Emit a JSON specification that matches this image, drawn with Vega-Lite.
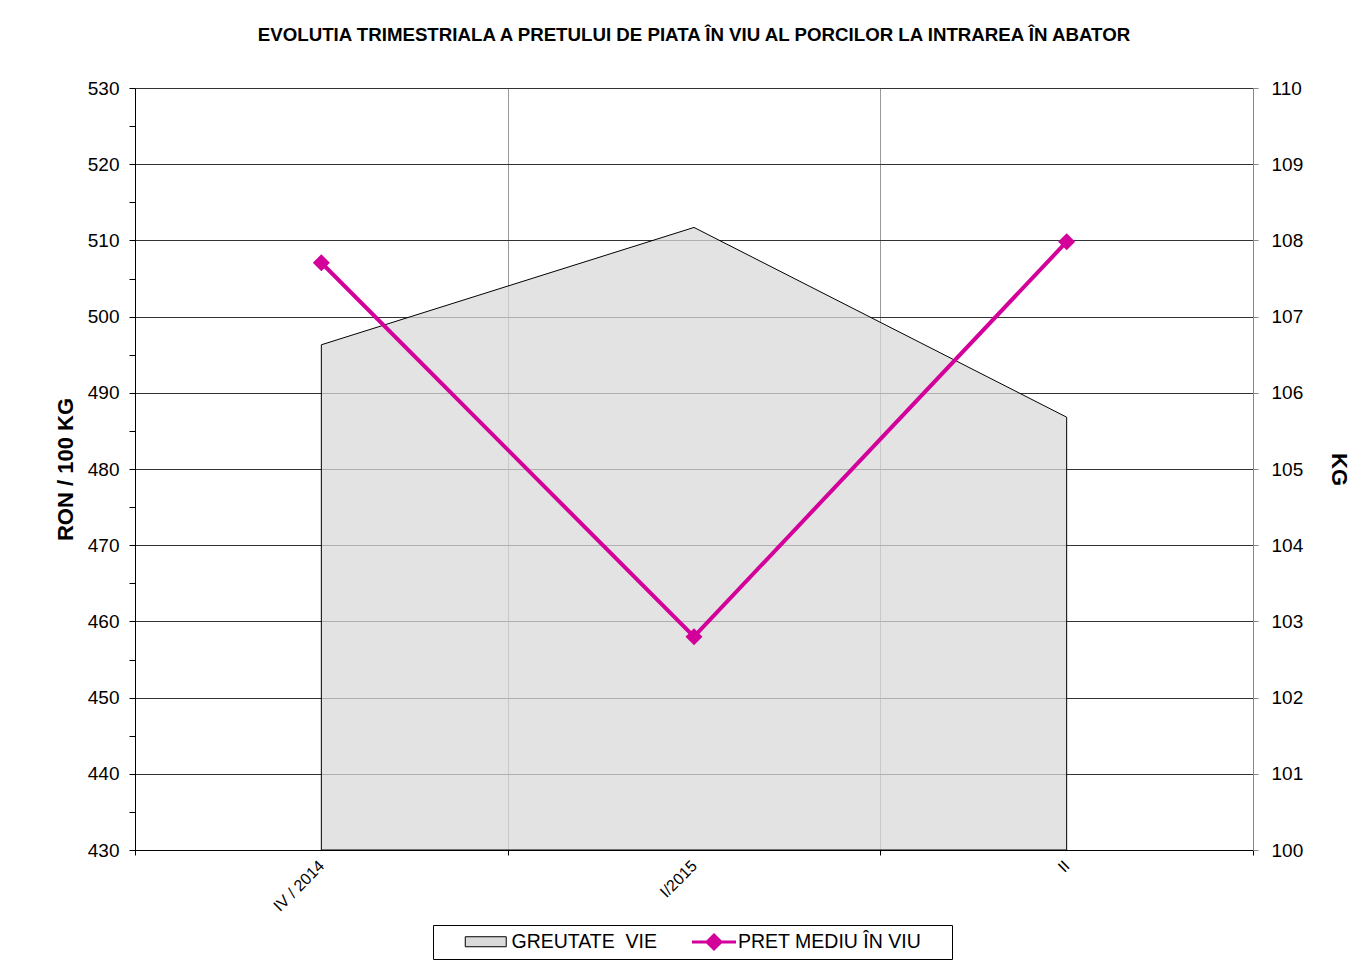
{
  "$schema": "https://vega.github.io/schema/vega-lite/v6.json",
  "width": 1118,
  "height": 762,
  "autosize": "none",
  "padding": {"left": 135, "top": 88, "right": 117, "bottom": 114},
  "background": "white",
  "config": {
    "font": "Liberation Sans",
    "view": {"stroke": null},
    "axis": {"labelFont": "Liberation Sans", "titleFont": "Liberation Sans", "labelColor": "black", "titleColor": "black"}
  },
  "title": {
    "text": "EVOLUTIA TRIMESTRIALA  A PRETULUI  DE PIATA  ÎN VIU AL PORCILOR  LA INTRAREA ÎN ABATOR",
    "font": "Liberation Sans",
    "fontSize": 18.7,
    "fontWeight": "bold",
    "color": "black",
    "anchor": "middle",
    "offset": 34
  },
  "data": {
    "values": [
      {"q": "IV / 2014", "kg": 106.63, "pret": 507.07},
      {"q": "I/2015", "kg": 108.17, "pret": 458.0},
      {"q": "II", "kg": 105.68, "pret": 509.83}
    ]
  },
  "layer": [
    {
      "mark": {"type": "area", "stroke": "black", "strokeWidth": 1, "fillOpacity": 0.75},
      "encoding": {
        "x": {
          "field": "q",
          "type": "ordinal",
          "sort": null,
          "bandPosition": 0.5,
          "scale": {"type": "band", "paddingInner": 0, "paddingOuter": 0},
          "axis": {
            "title": null,
            "tickBand": "extent",
            "grid": true,
            "gridColor": "#999999",
            "gridWidth": 1,
            "domainColor": "black",
            "tickColor": "black",
            "tickSize": 5,
            "labelAngle": -45,
            "labelAlign": "right",
            "labelBaseline": "middle",
            "labelFontSize": 16,
            "labelPadding": 8
          }
        },
        "y": {
          "field": "kg",
          "type": "quantitative",
          "scale": {"domain": [100, 110], "zero": false, "nice": false},
          "axis": {
            "orient": "right",
            "title": "KG",
            "titleFontSize": 22,
            "titleFontWeight": "bold",
            "titlePadding": 24,
            "values": [100, 101, 102, 103, 104, 105, 106, 107, 108, 109, 110],
            "grid": true,
            "gridColor": "#333333",
            "gridWidth": 1,
            "domainColor": "#888888",
            "tickColor": "#888888",
            "tickSize": 5,
            "labelPadding": 13,
            "labelFontSize": 19
          }
        },
        "y2": {"datum": 100},
        "fill": {
          "datum": "GREUTATE  VIE",
          "type": "nominal",
          "scale": {"domain": ["GREUTATE  VIE"], "range": ["#dadada"]},
          "legend": {
            "orient": "none",
            "legendX": 298,
            "legendY": 837,
            "direction": "horizontal",
            "title": "\u200b\u00a0\u00a0\u00a0\u00a0\u00a0\u00a0\u00a0\u200b",
            "titleOrient": "left",
            "titlePadding": 0,
            "titleFontSize": 18,
            "padding": 7,
            "strokeColor": "black",
            "symbolType": "M-2.41,-0.59H2.41V0.59H-2.41Z",
            "symbolSize": 289,
            "symbolStrokeColor": "black",
            "symbolStrokeWidth": 1,
            "symbolOpacity": 1,
            "labelFont": "Liberation Sans",
            "labelFontSize": 19.5,
            "labelColor": "black",
            "labelOffset": 16,
            "labelLimit": 600,
            "labelExpr": "pad('GREUTATE\u00a0 VIE', 66, '\u00a0') + '\u200b'"
          }
        }
      }
    },
    {
      "mark": {"type": "line", "strokeWidth": 4, "color": "#d4009a", "point": {"filled": true, "shape": "diamond", "size": 200, "color": "#d4009a"}},
      "encoding": {
        "x": {"field": "q", "type": "ordinal", "sort": null, "bandPosition": 0.5},
        "y": {
          "field": "pret",
          "type": "quantitative",
          "scale": {"domain": [430, 530], "zero": false, "nice": false},
          "axis": {
            "orient": "left",
            "title": "RON / 100 KG",
            "titleFontSize": 22,
            "titleFontWeight": "bold",
            "titlePadding": 10,
            "values": [430, 435, 440, 445, 450, 455, 460, 465, 470, 475, 480, 485, 490, 495, 500, 505, 510, 515, 520, 525, 530],
            "labelExpr": "datum.value % 10 === 0 ? datum.label : ''",
            "grid": false,
            "domainColor": "black",
            "tickColor": "black",
            "tickSize": 6,
            "labelPadding": 10,
            "labelFontSize": 19
          }
        },
        "stroke": {
          "datum": "PRET MEDIU ÎN VIU",
          "type": "nominal",
          "scale": {"domain": ["PRET MEDIU ÎN VIU"], "range": ["#d4009a"]},
          "legend": {
            "orient": "none",
            "legendX": 569,
            "legendY": 844,
            "direction": "horizontal",
            "title": null,
            "padding": 0,
            "symbolType": "M-2.59,0H2.59M0,-0.82L0.82,0L0,0.82L-0.82,0Z",
            "symbolSize": 289,
            "symbolStrokeWidth": 3,
            "symbolFillColor": "#d4009a",
            "symbolOpacity": 1,
            "labelFont": "Liberation Sans",
            "labelFontSize": 19.5,
            "labelColor": "black",
            "labelOffset": 14,
            "labelLimit": 400
          }
        }
      }
    }
  ],
  "resolve": {"scale": {"y": "independent"}}
}
